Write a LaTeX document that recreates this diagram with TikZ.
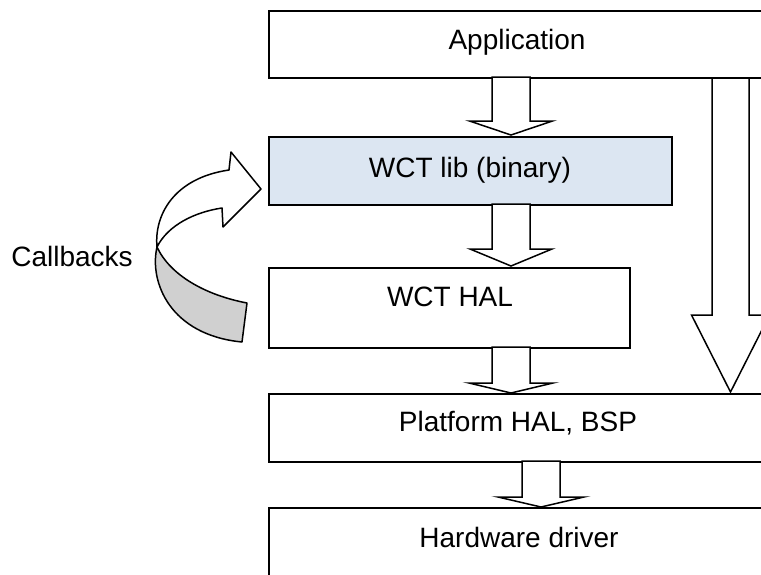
\documentclass[tikz,border=0pt]{standalone}
\usepackage{fontspec}
\setmainfont{Liberation Sans}
\definecolor{libblue}{HTML}{DCE6F2}
\definecolor{backgrey}{HTML}{D0D0D0}
\tikzset{
  box/.style={draw=black, line width=1.5pt, fill=white, rectangle, inner sep=0pt, anchor=north west},
  txt/.style={font=\fontsize{28}{32}\selectfont, inner sep=0pt},
  blk/.style={draw=black, line width=1.5pt, fill=white, line join=miter},
  cbarrow/.style={draw=black, line width=1.5pt, line join=round},
}
% cx, top, headtop, tip, halfshaft, halfhead
\newcommand\blockdown[6]{%
  \draw[blk] ({#1-#5},#2) -- ({#1-#5},#3) -- ({#1-#6},#3) -- (#1,#4) -- ({#1+#6},#3) -- ({#1+#5},#3) -- ({#1+#5},#2) -- cycle;}
\begin{document}
\begin{tikzpicture}[x=1pt, y=-1pt]
  \useasboundingbox (0,0) rectangle (761,574);
  \clip (0,0) rectangle (761,574);

  % boxes
  \node[box, minimum width=498, minimum height=67] (app) at (268,10) {};
  \node[box, fill=libblue, minimum width=403, minimum height=68] (lib) at (268,136) {};
  \node[box, minimum width=361, minimum height=80] (hal) at (268,267) {};
  \node[box, minimum width=500, minimum height=68] (plat) at (268,393) {};
  \node[box, minimum width=502, minimum height=100] (hw) at (268,507) {};

  % texts
  \node[txt] (appt) at (517,42) {Application};
  \node[txt] (libt) at (470,170) {WCT lib (binary)};
  \node[txt] (halt) at (450,297) {WCT HAL};
  \node[txt] (platt) at (518,423.5) {Platform HAL, BSP};
  \node[txt] (hwt) at (519,537.5) {Hardware driver};
  \node[txt] (cb) at (72,256) {Callbacks};

  % block arrows
  \blockdown{511}{77}{121}{135}{19}{41.5}
  \blockdown{511}{204}{249}{266}{19}{41}
  \blockdown{511}{347}{383}{393}{19}{42}
  \blockdown{541}{461}{497}{507}{19}{43}
  \blockdown{730.5}{78}{315}{392}{18.5}{39}

  % curved callback arrow: grey back side
  \coordinate (cx) at (157,247);
  \path[cbarrow, fill=backgrey] (cx) .. controls (149,282) and (170,335) .. (242,342)
     -- (247,303) .. controls (205,295) and (170,275) .. (cx) -- cycle;
  % white front side with head
  \path[cbarrow, fill=white] (cx) .. controls (154,215) and (174,178) .. (229,170)
     -- (231,152) -- (261,189) -- (223,227) -- (222,208)
     .. controls (195,212) and (168,225) .. (cx) -- cycle;
\end{tikzpicture}
\end{document}
